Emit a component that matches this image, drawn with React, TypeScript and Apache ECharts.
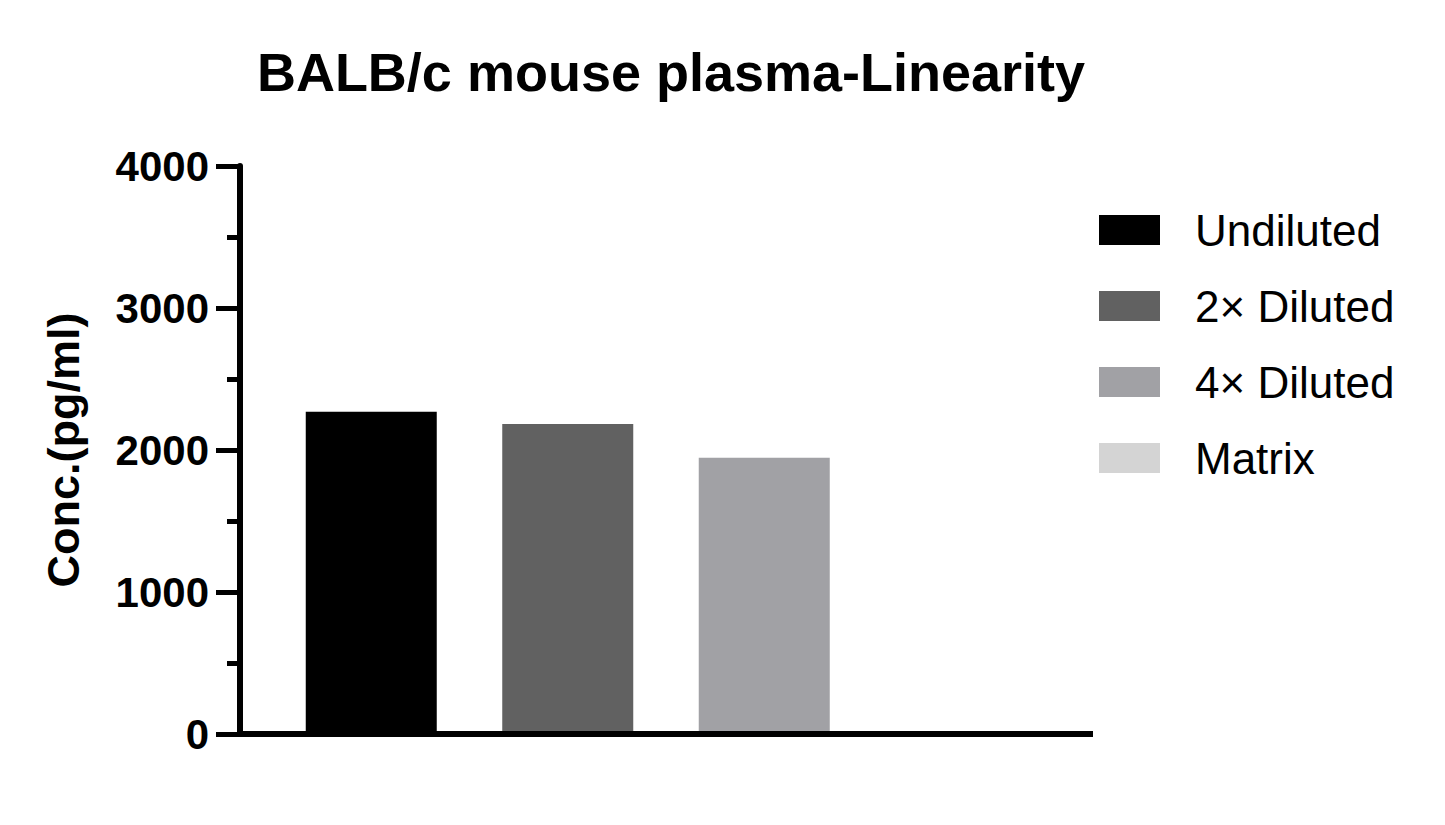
import React, { useEffect, useRef } from "react";
import * as echarts from "echarts";

const titleText = "BALB/c mouse plasma-Linearity";
const yAxisName = "Conc.(pg/ml)";
const categories = ["Sample"];
const seriesNames = ["Undiluted", "2× Diluted", "4× Diluted", "Matrix"];
const seriesValues = [2270, 2183, 1946, 0];
const seriesColors = ["#000000", "#616161", "#a1a1a5", "#d4d4d4"];
const yMin = 0;
const yMax = 4000;
const yInterval = 1000;

const FONT = "'Liberation Sans', Arial, Helvetica, sans-serif";

export default function App() {
  const ref = useRef<HTMLDivElement>(null);
  useEffect(() => {
    if (!ref.current) return;
    const chart = echarts.init(ref.current, undefined, { renderer: "svg" });
    const option = {
      animation: false,
      backgroundColor: "#ffffff",
      title: {
        text: titleText,
        left: 666,
        top: 40,
        textAlign: "center",
        textStyle: {
          fontFamily: FONT,
          fontSize: 54,
          fontWeight: "bold",
          color: "#000",
        },
      },
      legend: {
        orient: "vertical",
        left: 1099,
        top: 208,
        padding: 0,
        itemWidth: 61,
        itemHeight: 30,
        itemGap: 32,
        icon: "rect",
        data: seriesNames,
        textStyle: {
          fontFamily: FONT,
          fontSize: 44,
          color: "#000",
          padding: [0, 0, 0, 30],
        },
      },
      grid: {
        left: 240,
        right: 1445 - 1092,
        top: 166,
        bottom: 825 - 734,
        containLabel: false,
      },
      xAxis: {
        type: "category",
        data: categories,
        axisLine: { show: false },
        axisTick: { show: false },
        axisLabel: { show: false },
        splitLine: { show: false },
      },
      yAxis: {
        type: "value",
        min: yMin,
        max: yMax,
        interval: yInterval,
        name: yAxisName,
        nameLocation: "middle",
        nameRotate: 90,
        nameGap: 154,
        nameTextStyle: {
          fontFamily: FONT,
          fontSize: 45,
          fontWeight: "bold",
          color: "#000",
        },
        axisLine: { show: true, lineStyle: { color: "#000", width: 6 } },
        axisTick: {
          show: true,
          inside: false,
          length: 24,
          lineStyle: { color: "#000", width: 5 },
        },
        minorTick: {
          show: true,
          splitNumber: 2,
          length: 13,
          lineStyle: { color: "#000", width: 5 },
        },
        splitLine: { show: false },
        axisLabel: {
          fontFamily: FONT,
          fontSize: 42,
          fontWeight: "bold",
          color: "#000",
          margin: 31,
          formatter: (v: number) => String(v),
        },
      },
      series: seriesNames.map((name, i) => ({
        name,
        type: "bar",
        data: [seriesValues[i]],
        barWidth: 131,
        barGap: "50%",
        itemStyle: { color: seriesColors[i] },
      })),
      graphic: [
        {
          type: "line",
          shape: { x1: 240, y1: 734, x2: 1093, y2: 734 },
          style: { stroke: "#000", lineWidth: 6 },
          z: 100,
        },
      ],
    };
    chart.setOption(option as any);
    return () => chart.dispose();
  }, []);
  return <div ref={ref} style={{ width: 1445, height: 825, position: "absolute", left: 0, top: 0 }} />;
}
